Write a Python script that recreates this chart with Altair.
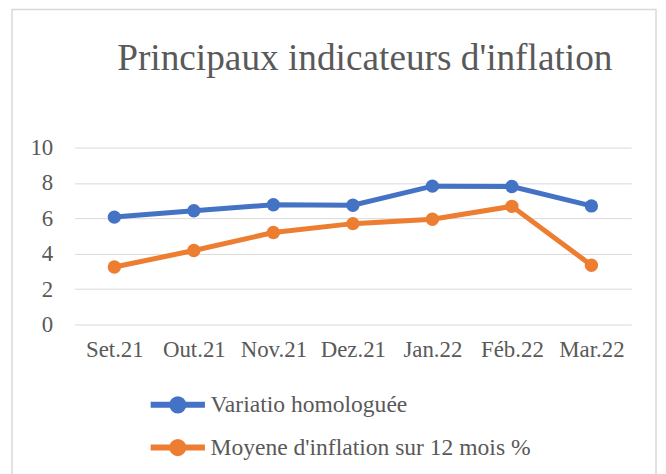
import altair as alt
import pandas as pd

months = ["Set.21", "Out.21", "Nov.21", "Dez.21", "Jan.22", "Féb.22", "Mar.22"]
variatio = [6.07, 6.43, 6.77, 6.74, 7.82, 7.80, 6.70]
moyenne = [3.25, 4.18, 5.20, 5.70, 5.95, 6.68, 3.35]
series_names = ["Variatio homologuée", "Moyene d'inflation sur 12 mois %"]
colors = ["#4472C4", "#ED7D31"]

rows = []
for m, v in zip(months, variatio):
    rows.append({"mois": m, "valeur": v, "serie": series_names[0]})
for m, v in zip(months, moyenne):
    rows.append({"mois": m, "valeur": v, "serie": series_names[1]})
df = pd.DataFrame(rows)

FONT = "Liberation Serif"
TXT = "#595959"

sym = "M-3.9,0H3.9M-0.8,0A0.8,0.8 0 1,1 0.8,0A0.8,0.8 0 1,1 -0.8,0Z"

x = alt.X("mois:N", sort=months, title=None,
          axis=alt.Axis(labelAngle=0, labelFont=FONT, labelFontSize=23, labelColor=TXT,
                        labelFontWeight="normal",
                        domain=False, ticks=False, grid=False, labelPadding=14))
y = alt.Y("valeur:Q", title=None, scale=alt.Scale(domain=[0, 10]),
          axis=alt.Axis(values=[0, 2, 4, 6, 8, 10], labelFont=FONT, labelFontSize=23,
                        labelFontWeight="normal",
                        labelColor=TXT, domain=False, ticks=False, gridColor="#d9d9d9",
                        gridWidth=1, labelPadding=22))
color = alt.Color("serie:N", sort=series_names,
                  scale=alt.Scale(domain=series_names, range=colors),
                  legend=alt.Legend(title=None, orient="none", legendX=92, legendY=247,
                                    direction="vertical", symbolType=sym, symbolSize=196,
                                    symbolStrokeWidth=6, labelFont=FONT, labelFontSize=23.7,
                                    labelColor=TXT, rowPadding=7, labelOffset=21,
                                    labelLimit=500))

base = alt.Chart(df)
lines = base.mark_line(strokeWidth=5).encode(x=x, y=y, color=color)
points = base.mark_point(filled=True, size=180, opacity=1).encode(x=x, y=y, color=color)

border = alt.Chart(pd.DataFrame({"a": [0]})).mark_rect(
    fill=None, stroke="#d9d9d9", strokeWidth=1.5).encode(
    x=alt.value(-63), x2=alt.value(585), y=alt.value(-139), y2=alt.value(400))

title = alt.Chart(pd.DataFrame({"t": ["Principaux indicateurs d'inflation"]})).mark_text(
    font=FONT, fontSize=37.5, color=TXT, align="center", baseline="alphabetic").encode(
    text="t:N", x=alt.value(292), y=alt.value(-78))

chart = alt.layer(border, lines, points, title).properties(
    width=560, height=178,
    autosize=alt.AutoSizeParams(type="none"),
    padding={"left": 67, "top": 139, "right": 27, "bottom": 149},
).configure(background="white", font=FONT).configure_view(stroke=None)

chart.save("out.html", embed_options={"renderer": "svg", "actions": False})
